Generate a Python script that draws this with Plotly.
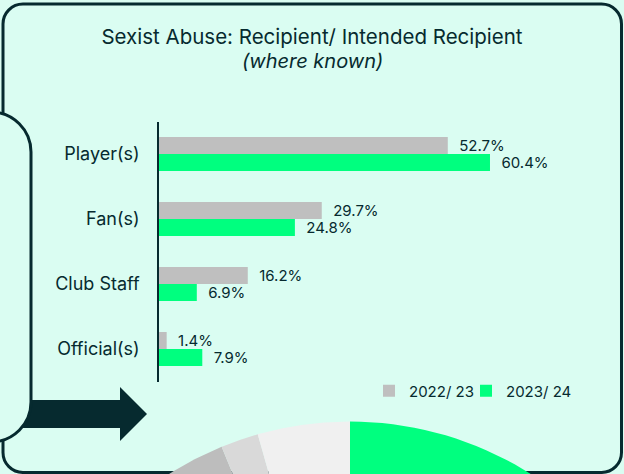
import numpy as np
import plotly.graph_objects as go

W, H = 624, 474

categories = ["Player(s)", "Fan(s)", "Club Staff", "Official(s)"]
season_names = ["2022/ 23", "2023/ 24"]
values_2223 = [52.7, 29.7, 16.2, 1.4]
values_2324 = [60.4, 24.8, 6.9, 7.9]
bar_colors = ["#bfbfbf", "#00ff7f"]

# the cropped pie from the next panel, shares clockwise from 12 o'clock
pie_shares = [60.4, 33.4, 1.8, 4.4]
pie_colors = ["#00ff7f", "#bdbdbd", "#d9d9d9", "#f0f0f0"]

ink = "#062a2f"
mint = "#dafdf2"
font = "Inter"


def px(x, y):
    # pixel -> paper (margins are zero, so paper == the whole figure)
    return f"{x / W:.5f},{1 - y / H:.5f}"


def rounded_rect(x0, y0, x1, y1, r):
    k = 0.5523 * r
    return (
        f"M{px(x0 + r, y0)} L{px(x1 - r, y0)} "
        f"C{px(x1 - r + k, y0)} {px(x1, y0 + r - k)} {px(x1, y0 + r)} "
        f"L{px(x1, y1 - r)} "
        f"C{px(x1, y1 - r + k)} {px(x1 - r + k, y1)} {px(x1 - r, y1)} "
        f"L{px(x0 + r, y1)} "
        f"C{px(x0 + r - k, y1)} {px(x0, y1 - r + k)} {px(x0, y1 - r)} "
        f"L{px(x0, y0 + r)} "
        f"C{px(x0, y0 + r - k)} {px(x0 + r - k, y0)} {px(x0 + r, y0)} Z"
    )


def polygon(points):
    return "M" + " L".join(px(x, y) for x, y in points) + " Z"


fig = go.Figure()

# one legend per season so the two entries can sit closer together
for name, vals, col, lg in zip(season_names, [values_2223, values_2324], bar_colors,
                               ["legend", "legend2"]):
    fig.add_trace(go.Bar(
        y=categories,
        x=vals,
        name=name,
        orientation="h",
        marker=dict(color=col, line=dict(width=0)),
        texttemplate="\u00a0\u00a0%{x:.1f}%",
        textposition="outside",
        constraintext="none",
        cliponaxis=False,
        textfont=dict(family=font, size=15, color=ink),
        hoverinfo="skip",
        legend=lg,
    ))

# pie slices on a pixel-sized overlay axis so they get clipped at the bottom edge
cx, cy, R = 350, 759.5, 338
start = 0.0
for share, col in zip(pie_shares, pie_colors):
    end = start + share / sum(pie_shares) * 2 * np.pi
    t = np.linspace(start, end, 120)
    xs = np.concatenate([[cx], cx + R * np.sin(t), [cx]])
    ys = np.concatenate([[cy], cy - R * np.cos(t), [cy]])
    fig.add_trace(go.Scatter(
        x=xs, y=ys, xaxis="x2", yaxis="y2",
        mode="lines", fill="toself", fillcolor=col,
        line=dict(width=0, color=col),
        showlegend=False, hoverinfo="skip",
    ))
    start = end

shapes = [
    # main card
    dict(type="path", path=rounded_rect(3, 4, 621.5, 472.5, 20),
         xref="paper", yref="paper", layer="below",
         fillcolor=mint, line=dict(color=ink, width=3)),
    # arrow
    dict(type="path",
         path=polygon([(0, 400), (120, 400), (120, 387), (147, 414),
                       (120, 441), (120, 428), (0, 428)]),
         xref="paper", yref="paper", layer="below",
         fillcolor=ink, line=dict(width=0)),
    # neighbouring panel poking in from the left
    dict(type="path", path=rounded_rect(-80, 112, 31, 442, 40),
         xref="paper", yref="paper", layer="below",
         fillcolor=mint, line=dict(color=ink, width=3)),
]

legend_style = dict(
    orientation="h",
    y=1 - 391 / H, yanchor="middle",
    xanchor="left",
    font=dict(family=font, size=15, color=ink),
    bgcolor="rgba(0,0,0,0)",
    itemclick=False,
    itemdoubleclick=False,
)

fig.update_layout(
    width=W,
    height=H,
    margin=dict(l=0, r=0, t=0, b=0),
    paper_bgcolor=mint,
    plot_bgcolor="rgba(0,0,0,0)",
    font=dict(family=font, color=ink),
    title=dict(
        text="Sexist Abuse: Recipient/ Intended Recipient",
        x=0.5, xanchor="center",
        y=1 - 37 / H, yanchor="middle",
        font=dict(family=font, size=20.5, color=ink),
    ),
    annotations=[dict(
        text="<i>(where known)</i>",
        xref="paper", yref="paper",
        x=0.5, y=1 - 61 / H, xanchor="center", yanchor="middle",
        showarrow=False,
        font=dict(family=font, size=20, color=ink),
    )],
    barmode="group",
    bargap=0.477,
    bargroupgap=0,
    xaxis=dict(
        domain=[159 / W, 549 / W],
        range=[0, 390 / 5.48],
        visible=False,
        fixedrange=True,
    ),
    yaxis=dict(
        domain=[1 - 381.5 / H, 1 - 121.5 / H],
        categoryorder="array",
        categoryarray=categories,
        range=[3.5, -0.5],
        showline=True,
        linecolor=ink,
        linewidth=1.5,
        showgrid=False,
        zeroline=False,
        ticks="",
        ticklabelstandoff=14,
        tickfont=dict(family=font, size=18, color=ink),
        fixedrange=True,
    ),
    xaxis2=dict(domain=[0, 1], range=[0, W], anchor="y2", visible=False, fixedrange=True),
    yaxis2=dict(domain=[0, 1], range=[H, 0], anchor="x2", visible=False, fixedrange=True),
    legend=dict(legend_style, x=369 / W),
    legend2=dict(legend_style, x=466 / W),
    shapes=shapes,
    showlegend=True,
)

fig.write_html(
    "out.html",
    config={"displayModeBar": False},
    post_script="document.body.style.margin = '0';",
)
